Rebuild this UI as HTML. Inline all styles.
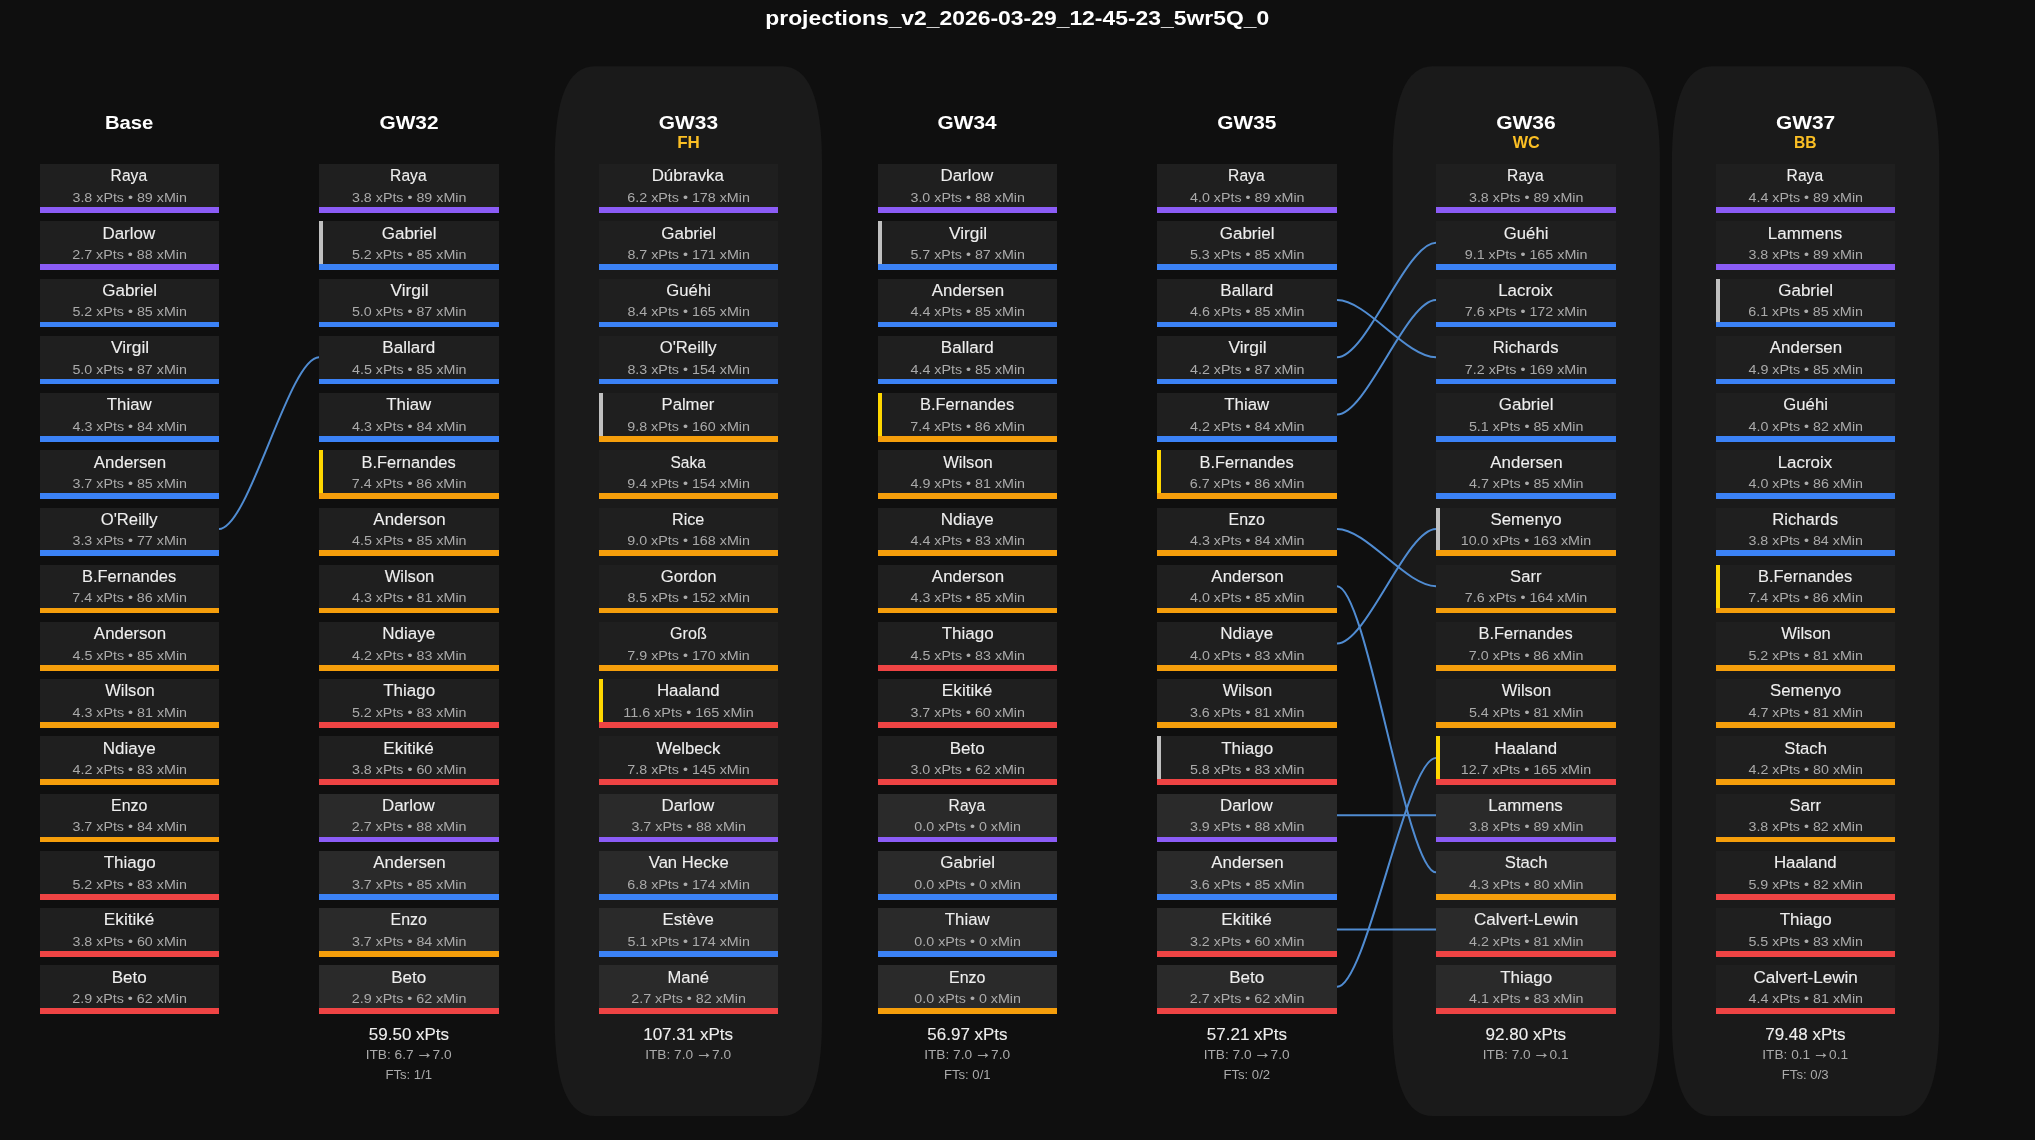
<!DOCTYPE html>
<html><head><meta charset="utf-8"><title>projections_v2_2026-03-29_12-45-23_5wr5Q_0</title><style>
html,body{margin:0;padding:0;background:#0f0f0f;width:2035px;height:1140px;overflow:hidden}
svg{display:block;will-change:transform}
text{font-family:"Liberation Sans",sans-serif;text-anchor:middle}
.t{font-size:19.83px;font-weight:bold;fill:#ffffff}
.h{font-size:18.42px;font-weight:bold;fill:#ffffff}
.c{font-size:15.59px;font-weight:bold;fill:#fbbf24}
.n{font-size:15.59px;fill:#eeeeee;stroke:#eeeeee;stroke-width:0.1px}
.s{font-size:12.75px;fill:#aaaaaa}
.tot{font-size:15.59px;fill:#eeeeee;stroke:#eeeeee;stroke-width:0.1px}
.i{font-size:12.75px;fill:#aaaaaa}
.i .ar{stroke:#aaaaaa}
.ar{font-size:15.62px;stroke-width:0.3px}
.ln{fill:none;stroke:#508cd2;stroke-width:2px}
</style></head><body>
<svg width="2035" height="1140" viewBox="0 0 2035 1140">
<rect x="0" y="0" width="2035" height="1140" fill="#0f0f0f"/>
<path d="M594.70,66.30L782.00,66.30Q822.00,66.30 822.00,162.30L822.00,1020.00Q822.00,1116.00 782.00,1116.00L594.70,1116.00Q554.70,1116.00 554.70,1020.00L554.70,162.30Q554.70,66.30 594.70,66.30Z" fill="#1a1a1a"/>
<path d="M1432.60,66.30L1619.90,66.30Q1659.90,66.30 1659.90,162.30L1659.90,1020.00Q1659.90,1116.00 1619.90,1116.00L1432.60,1116.00Q1392.60,1116.00 1392.60,1020.00L1392.60,162.30Q1392.60,66.30 1432.60,66.30Z" fill="#1a1a1a"/>
<path d="M1711.90,66.30L1899.20,66.30Q1939.20,66.30 1939.20,162.30L1939.20,1020.00Q1939.20,1116.00 1899.20,1116.00L1711.90,1116.00Q1671.90,1116.00 1671.90,1020.00L1671.90,162.30Q1671.90,66.30 1711.90,66.30Z" fill="#1a1a1a"/>
<text x="1017.24" y="25" class="t" textLength="503.96" lengthAdjust="spacingAndGlyphs">projections_v2_2026-03-29_12-45-23_5wr5Q_0</text>
<text x="129.15" y="129" class="h" textLength="48.46" lengthAdjust="spacingAndGlyphs">Base</text>
<rect x="40" y="164" width="179" height="49" fill="#1f1f1f"/>
<rect x="40" y="207" width="179" height="6" fill="#8b5cf6"/>
<text x="128.85" y="181" class="n" textLength="36.46" lengthAdjust="spacingAndGlyphs">Raya</text>
<text x="129.68" y="202" class="s" textLength="114.43" lengthAdjust="spacingAndGlyphs">3.8 xPts • 89 xMin</text>
<rect x="40" y="221" width="179" height="49" fill="#1f1f1f"/>
<rect x="40" y="264" width="179" height="6" fill="#8b5cf6"/>
<text x="128.78" y="239" class="n" textLength="52.69" lengthAdjust="spacingAndGlyphs">Darlow</text>
<text x="129.59" y="259" class="s" textLength="114.64" lengthAdjust="spacingAndGlyphs">2.7 xPts • 88 xMin</text>
<rect x="40" y="279" width="179" height="48" fill="#1f1f1f"/>
<rect x="40" y="322" width="179" height="5" fill="#3b82f6"/>
<text x="129.64" y="296" class="n" textLength="54.81" lengthAdjust="spacingAndGlyphs">Gabriel</text>
<text x="129.66" y="316" class="s" textLength="114.44" lengthAdjust="spacingAndGlyphs">5.2 xPts • 85 xMin</text>
<rect x="40" y="336" width="179" height="48" fill="#1f1f1f"/>
<rect x="40" y="379" width="179" height="5" fill="#3b82f6"/>
<text x="130.04" y="353" class="n" textLength="38.27" lengthAdjust="spacingAndGlyphs">Virgil</text>
<text x="129.66" y="374" class="s" textLength="114.44" lengthAdjust="spacingAndGlyphs">5.0 xPts • 87 xMin</text>
<rect x="40" y="393" width="179" height="49" fill="#1f1f1f"/>
<rect x="40" y="436" width="179" height="6" fill="#3b82f6"/>
<text x="129.29" y="410" class="n" textLength="44.84" lengthAdjust="spacingAndGlyphs">Thiaw</text>
<text x="129.79" y="431" class="s" textLength="114.56" lengthAdjust="spacingAndGlyphs">4.3 xPts • 84 xMin</text>
<rect x="40" y="450" width="179" height="49" fill="#1f1f1f"/>
<rect x="40" y="493" width="179" height="6" fill="#3b82f6"/>
<text x="130.01" y="468" class="n" textLength="72.28" lengthAdjust="spacingAndGlyphs">Andersen</text>
<text x="129.68" y="488" class="s" textLength="114.43" lengthAdjust="spacingAndGlyphs">3.7 xPts • 85 xMin</text>
<rect x="40" y="508" width="179" height="48" fill="#1f1f1f"/>
<rect x="40" y="550" width="179" height="6" fill="#3b82f6"/>
<text x="129.14" y="525" class="n" textLength="56.89" lengthAdjust="spacingAndGlyphs">O'Reilly</text>
<text x="129.68" y="545" class="s" textLength="114.43" lengthAdjust="spacingAndGlyphs">3.3 xPts • 77 xMin</text>
<rect x="40" y="565" width="179" height="48" fill="#1f1f1f"/>
<rect x="40" y="608" width="179" height="5" fill="#f59e0b"/>
<text x="129.12" y="582" class="n" textLength="94.20" lengthAdjust="spacingAndGlyphs">B.Fernandes</text>
<text x="129.59" y="602" class="s" textLength="114.52" lengthAdjust="spacingAndGlyphs">7.4 xPts • 86 xMin</text>
<rect x="40" y="622" width="179" height="49" fill="#1f1f1f"/>
<rect x="40" y="665" width="179" height="6" fill="#f59e0b"/>
<text x="130.01" y="639" class="n" textLength="72.24" lengthAdjust="spacingAndGlyphs">Anderson</text>
<text x="129.79" y="660" class="s" textLength="114.56" lengthAdjust="spacingAndGlyphs">4.5 xPts • 85 xMin</text>
<rect x="40" y="679" width="179" height="49" fill="#1f1f1f"/>
<rect x="40" y="722" width="179" height="6" fill="#f59e0b"/>
<text x="129.98" y="696" class="n" textLength="49.60" lengthAdjust="spacingAndGlyphs">Wilson</text>
<text x="129.79" y="717" class="s" textLength="114.56" lengthAdjust="spacingAndGlyphs">4.3 xPts • 81 xMin</text>
<rect x="40" y="736" width="179" height="49" fill="#1f1f1f"/>
<rect x="40" y="779" width="179" height="6" fill="#f59e0b"/>
<text x="129.16" y="754" class="n" textLength="53.02" lengthAdjust="spacingAndGlyphs">Ndiaye</text>
<text x="129.79" y="774" class="s" textLength="114.56" lengthAdjust="spacingAndGlyphs">4.2 xPts • 83 xMin</text>
<rect x="40" y="794" width="179" height="48" fill="#1f1f1f"/>
<rect x="40" y="837" width="179" height="5" fill="#f59e0b"/>
<text x="129.18" y="811" class="n" textLength="36.36" lengthAdjust="spacingAndGlyphs">Enzo</text>
<text x="129.68" y="831" class="s" textLength="114.43" lengthAdjust="spacingAndGlyphs">3.7 xPts • 84 xMin</text>
<rect x="40" y="851" width="179" height="49" fill="#1f1f1f"/>
<rect x="40" y="894" width="179" height="6" fill="#ef4444"/>
<text x="129.65" y="868" class="n" textLength="51.95" lengthAdjust="spacingAndGlyphs">Thiago</text>
<text x="129.66" y="889" class="s" textLength="114.44" lengthAdjust="spacingAndGlyphs">5.2 xPts • 83 xMin</text>
<rect x="40" y="908" width="179" height="49" fill="#1f1f1f"/>
<rect x="40" y="951" width="179" height="6" fill="#ef4444"/>
<text x="129.16" y="925" class="n" textLength="50.55" lengthAdjust="spacingAndGlyphs">Ekitiké</text>
<text x="129.68" y="946" class="s" textLength="114.43" lengthAdjust="spacingAndGlyphs">3.8 xPts • 60 xMin</text>
<rect x="40" y="965" width="179" height="49" fill="#1f1f1f"/>
<rect x="40" y="1008" width="179" height="6" fill="#ef4444"/>
<text x="129.16" y="983" class="n" textLength="35.01" lengthAdjust="spacingAndGlyphs">Beto</text>
<text x="129.59" y="1003" class="s" textLength="114.64" lengthAdjust="spacingAndGlyphs">2.9 xPts • 62 xMin</text>
<text x="408.99" y="129" class="h" textLength="59.08" lengthAdjust="spacingAndGlyphs">GW32</text>
<rect x="319" y="164" width="180" height="49" fill="#1f1f1f"/>
<rect x="319" y="207" width="180" height="6" fill="#8b5cf6"/>
<text x="408.35" y="181" class="n" textLength="36.46" lengthAdjust="spacingAndGlyphs">Raya</text>
<text x="409.18" y="202" class="s" textLength="114.43" lengthAdjust="spacingAndGlyphs">3.8 xPts • 89 xMin</text>
<rect x="319" y="221" width="180" height="49" fill="#1f1f1f"/>
<rect x="319" y="264" width="180" height="6" fill="#3b82f6"/>
<rect x="319" y="221" width="4" height="43" fill="#c0c0c0"/>
<text x="409.14" y="239" class="n" textLength="54.81" lengthAdjust="spacingAndGlyphs">Gabriel</text>
<text x="409.16" y="259" class="s" textLength="114.44" lengthAdjust="spacingAndGlyphs">5.2 xPts • 85 xMin</text>
<rect x="319" y="279" width="180" height="48" fill="#1f1f1f"/>
<rect x="319" y="322" width="180" height="5" fill="#3b82f6"/>
<text x="409.54" y="296" class="n" textLength="38.27" lengthAdjust="spacingAndGlyphs">Virgil</text>
<text x="409.16" y="316" class="s" textLength="114.44" lengthAdjust="spacingAndGlyphs">5.0 xPts • 87 xMin</text>
<rect x="319" y="336" width="180" height="48" fill="#1f1f1f"/>
<rect x="319" y="379" width="180" height="5" fill="#3b82f6"/>
<text x="408.83" y="353" class="n" textLength="53.01" lengthAdjust="spacingAndGlyphs">Ballard</text>
<text x="409.29" y="374" class="s" textLength="114.56" lengthAdjust="spacingAndGlyphs">4.5 xPts • 85 xMin</text>
<rect x="319" y="393" width="180" height="49" fill="#1f1f1f"/>
<rect x="319" y="436" width="180" height="6" fill="#3b82f6"/>
<text x="408.79" y="410" class="n" textLength="44.84" lengthAdjust="spacingAndGlyphs">Thiaw</text>
<text x="409.29" y="431" class="s" textLength="114.56" lengthAdjust="spacingAndGlyphs">4.3 xPts • 84 xMin</text>
<rect x="319" y="450" width="180" height="49" fill="#1f1f1f"/>
<rect x="319" y="493" width="180" height="6" fill="#f59e0b"/>
<rect x="319" y="450" width="4" height="43" fill="#ffd700"/>
<text x="408.62" y="468" class="n" textLength="94.20" lengthAdjust="spacingAndGlyphs">B.Fernandes</text>
<text x="409.09" y="488" class="s" textLength="114.52" lengthAdjust="spacingAndGlyphs">7.4 xPts • 86 xMin</text>
<rect x="319" y="508" width="180" height="48" fill="#1f1f1f"/>
<rect x="319" y="550" width="180" height="6" fill="#f59e0b"/>
<text x="409.51" y="525" class="n" textLength="72.24" lengthAdjust="spacingAndGlyphs">Anderson</text>
<text x="409.29" y="545" class="s" textLength="114.56" lengthAdjust="spacingAndGlyphs">4.5 xPts • 85 xMin</text>
<rect x="319" y="565" width="180" height="48" fill="#1f1f1f"/>
<rect x="319" y="608" width="180" height="5" fill="#f59e0b"/>
<text x="409.48" y="582" class="n" textLength="49.60" lengthAdjust="spacingAndGlyphs">Wilson</text>
<text x="409.29" y="602" class="s" textLength="114.56" lengthAdjust="spacingAndGlyphs">4.3 xPts • 81 xMin</text>
<rect x="319" y="622" width="180" height="49" fill="#1f1f1f"/>
<rect x="319" y="665" width="180" height="6" fill="#f59e0b"/>
<text x="408.66" y="639" class="n" textLength="53.02" lengthAdjust="spacingAndGlyphs">Ndiaye</text>
<text x="409.29" y="660" class="s" textLength="114.56" lengthAdjust="spacingAndGlyphs">4.2 xPts • 83 xMin</text>
<rect x="319" y="679" width="180" height="49" fill="#1f1f1f"/>
<rect x="319" y="722" width="180" height="6" fill="#ef4444"/>
<text x="409.15" y="696" class="n" textLength="51.95" lengthAdjust="spacingAndGlyphs">Thiago</text>
<text x="409.16" y="717" class="s" textLength="114.44" lengthAdjust="spacingAndGlyphs">5.2 xPts • 83 xMin</text>
<rect x="319" y="736" width="180" height="49" fill="#1f1f1f"/>
<rect x="319" y="779" width="180" height="6" fill="#ef4444"/>
<text x="408.66" y="754" class="n" textLength="50.55" lengthAdjust="spacingAndGlyphs">Ekitiké</text>
<text x="409.18" y="774" class="s" textLength="114.43" lengthAdjust="spacingAndGlyphs">3.8 xPts • 60 xMin</text>
<rect x="319" y="794" width="180" height="48" fill="#2a2a2a"/>
<rect x="319" y="837" width="180" height="5" fill="#8b5cf6"/>
<text x="408.28" y="811" class="n" textLength="52.69" lengthAdjust="spacingAndGlyphs">Darlow</text>
<text x="409.09" y="831" class="s" textLength="114.64" lengthAdjust="spacingAndGlyphs">2.7 xPts • 88 xMin</text>
<rect x="319" y="851" width="180" height="49" fill="#2a2a2a"/>
<rect x="319" y="894" width="180" height="6" fill="#3b82f6"/>
<text x="409.51" y="868" class="n" textLength="72.28" lengthAdjust="spacingAndGlyphs">Andersen</text>
<text x="409.18" y="889" class="s" textLength="114.43" lengthAdjust="spacingAndGlyphs">3.7 xPts • 85 xMin</text>
<rect x="319" y="908" width="180" height="49" fill="#2a2a2a"/>
<rect x="319" y="951" width="180" height="6" fill="#f59e0b"/>
<text x="408.68" y="925" class="n" textLength="36.36" lengthAdjust="spacingAndGlyphs">Enzo</text>
<text x="409.18" y="946" class="s" textLength="114.43" lengthAdjust="spacingAndGlyphs">3.7 xPts • 84 xMin</text>
<rect x="319" y="965" width="180" height="49" fill="#2a2a2a"/>
<rect x="319" y="1008" width="180" height="6" fill="#ef4444"/>
<text x="408.66" y="983" class="n" textLength="35.01" lengthAdjust="spacingAndGlyphs">Beto</text>
<text x="409.09" y="1003" class="s" textLength="114.64" lengthAdjust="spacingAndGlyphs">2.9 xPts • 62 xMin</text>
<text x="408.96" y="1040" class="tot" textLength="80.16" lengthAdjust="spacingAndGlyphs">59.50 xPts</text>
<text x="408.63" y="1059" class="i" textLength="85.95" lengthAdjust="spacingAndGlyphs">ITB: 6.7 <tspan class="ar" dx="-1" dy="-1.3">→</tspan><tspan dx="-4" dy="1.3"> 7.0</tspan></text>
<text x="408.78" y="1079" class="i" textLength="46.73" lengthAdjust="spacingAndGlyphs">FTs: 1/1</text>
<text x="688.46" y="129" class="h" textLength="59.16" lengthAdjust="spacingAndGlyphs">GW33</text>
<text x="688.50" y="148" class="c" textLength="22.71" lengthAdjust="spacingAndGlyphs">FH</text>
<rect x="599" y="164" width="179" height="49" fill="#1f1f1f"/>
<rect x="599" y="207" width="179" height="6" fill="#8b5cf6"/>
<text x="687.80" y="181" class="n" textLength="72.29" lengthAdjust="spacingAndGlyphs">Dúbravka</text>
<text x="688.60" y="202" class="s" textLength="122.63" lengthAdjust="spacingAndGlyphs">6.2 xPts • 178 xMin</text>
<rect x="599" y="221" width="179" height="49" fill="#1f1f1f"/>
<rect x="599" y="264" width="179" height="6" fill="#3b82f6"/>
<text x="688.64" y="239" class="n" textLength="54.81" lengthAdjust="spacingAndGlyphs">Gabriel</text>
<text x="688.65" y="259" class="s" textLength="122.55" lengthAdjust="spacingAndGlyphs">8.7 xPts • 171 xMin</text>
<rect x="599" y="279" width="179" height="48" fill="#1f1f1f"/>
<rect x="599" y="322" width="179" height="5" fill="#3b82f6"/>
<text x="688.63" y="296" class="n" textLength="44.53" lengthAdjust="spacingAndGlyphs">Guéhi</text>
<text x="688.65" y="316" class="s" textLength="122.55" lengthAdjust="spacingAndGlyphs">8.4 xPts • 165 xMin</text>
<rect x="599" y="336" width="179" height="48" fill="#1f1f1f"/>
<rect x="599" y="379" width="179" height="5" fill="#3b82f6"/>
<text x="688.14" y="353" class="n" textLength="56.89" lengthAdjust="spacingAndGlyphs">O'Reilly</text>
<text x="688.65" y="374" class="s" textLength="122.55" lengthAdjust="spacingAndGlyphs">8.3 xPts • 154 xMin</text>
<rect x="599" y="393" width="179" height="49" fill="#1f1f1f"/>
<rect x="599" y="436" width="179" height="6" fill="#f59e0b"/>
<rect x="599" y="393" width="4" height="43" fill="#c0c0c0"/>
<text x="687.94" y="410" class="n" textLength="52.85" lengthAdjust="spacingAndGlyphs">Palmer</text>
<text x="688.62" y="431" class="s" textLength="122.69" lengthAdjust="spacingAndGlyphs">9.8 xPts • 160 xMin</text>
<rect x="599" y="450" width="179" height="49" fill="#1f1f1f"/>
<rect x="599" y="493" width="179" height="6" fill="#f59e0b"/>
<text x="688.15" y="468" class="n" textLength="35.33" lengthAdjust="spacingAndGlyphs">Saka</text>
<text x="688.62" y="488" class="s" textLength="122.69" lengthAdjust="spacingAndGlyphs">9.4 xPts • 154 xMin</text>
<rect x="599" y="508" width="179" height="48" fill="#1f1f1f"/>
<rect x="599" y="550" width="179" height="6" fill="#f59e0b"/>
<text x="688.18" y="525" class="n" textLength="32.40" lengthAdjust="spacingAndGlyphs">Rice</text>
<text x="688.62" y="545" class="s" textLength="122.69" lengthAdjust="spacingAndGlyphs">9.0 xPts • 168 xMin</text>
<rect x="599" y="565" width="179" height="48" fill="#1f1f1f"/>
<rect x="599" y="608" width="179" height="5" fill="#f59e0b"/>
<text x="688.61" y="582" class="n" textLength="55.71" lengthAdjust="spacingAndGlyphs">Gordon</text>
<text x="688.65" y="602" class="s" textLength="122.55" lengthAdjust="spacingAndGlyphs">8.5 xPts • 152 xMin</text>
<rect x="599" y="622" width="179" height="49" fill="#1f1f1f"/>
<rect x="599" y="665" width="179" height="6" fill="#f59e0b"/>
<text x="688.42" y="639" class="n" textLength="36.68" lengthAdjust="spacingAndGlyphs">Groß</text>
<text x="688.60" y="660" class="s" textLength="122.47" lengthAdjust="spacingAndGlyphs">7.9 xPts • 170 xMin</text>
<rect x="599" y="679" width="179" height="49" fill="#1f1f1f"/>
<rect x="599" y="722" width="179" height="6" fill="#ef4444"/>
<rect x="599" y="679" width="4" height="43" fill="#ffd700"/>
<text x="688.33" y="696" class="n" textLength="62.80" lengthAdjust="spacingAndGlyphs">Haaland</text>
<text x="688.42" y="717" class="s" textLength="130.46" lengthAdjust="spacingAndGlyphs">11.6 xPts • 165 xMin</text>
<rect x="599" y="736" width="179" height="49" fill="#1f1f1f"/>
<rect x="599" y="779" width="179" height="6" fill="#ef4444"/>
<text x="688.45" y="754" class="n" textLength="63.71" lengthAdjust="spacingAndGlyphs">Welbeck</text>
<text x="688.60" y="774" class="s" textLength="122.47" lengthAdjust="spacingAndGlyphs">7.8 xPts • 145 xMin</text>
<rect x="599" y="794" width="179" height="48" fill="#2a2a2a"/>
<rect x="599" y="837" width="179" height="5" fill="#8b5cf6"/>
<text x="687.78" y="811" class="n" textLength="52.69" lengthAdjust="spacingAndGlyphs">Darlow</text>
<text x="688.68" y="831" class="s" textLength="114.43" lengthAdjust="spacingAndGlyphs">3.7 xPts • 88 xMin</text>
<rect x="599" y="851" width="179" height="49" fill="#2a2a2a"/>
<rect x="599" y="894" width="179" height="6" fill="#3b82f6"/>
<text x="688.81" y="868" class="n" textLength="80.05" lengthAdjust="spacingAndGlyphs">Van Hecke</text>
<text x="688.60" y="889" class="s" textLength="122.63" lengthAdjust="spacingAndGlyphs">6.8 xPts • 174 xMin</text>
<rect x="599" y="908" width="179" height="49" fill="#2a2a2a"/>
<rect x="599" y="951" width="179" height="6" fill="#3b82f6"/>
<text x="688.18" y="925" class="n" textLength="51.30" lengthAdjust="spacingAndGlyphs">Estève</text>
<text x="688.67" y="946" class="s" textLength="122.39" lengthAdjust="spacingAndGlyphs">5.1 xPts • 174 xMin</text>
<rect x="599" y="965" width="179" height="49" fill="#2a2a2a"/>
<rect x="599" y="1008" width="179" height="6" fill="#ef4444"/>
<text x="688.18" y="983" class="n" textLength="41.44" lengthAdjust="spacingAndGlyphs">Mané</text>
<text x="688.59" y="1003" class="s" textLength="114.64" lengthAdjust="spacingAndGlyphs">2.7 xPts • 82 xMin</text>
<text x="688.15" y="1040" class="tot" textLength="89.98" lengthAdjust="spacingAndGlyphs">107.31 xPts</text>
<text x="688.13" y="1059" class="i" textLength="85.95" lengthAdjust="spacingAndGlyphs">ITB: 7.0 <tspan class="ar" dx="-1" dy="-1.3">→</tspan><tspan dx="-4" dy="1.3"> 7.0</tspan></text>
<text x="967.15" y="129" class="h" textLength="59.12" lengthAdjust="spacingAndGlyphs">GW34</text>
<rect x="878" y="164" width="179" height="49" fill="#1f1f1f"/>
<rect x="878" y="207" width="179" height="6" fill="#8b5cf6"/>
<text x="966.78" y="181" class="n" textLength="52.69" lengthAdjust="spacingAndGlyphs">Darlow</text>
<text x="967.68" y="202" class="s" textLength="114.43" lengthAdjust="spacingAndGlyphs">3.0 xPts • 88 xMin</text>
<rect x="878" y="221" width="179" height="49" fill="#1f1f1f"/>
<rect x="878" y="264" width="179" height="6" fill="#3b82f6"/>
<rect x="878" y="221" width="4" height="43" fill="#c0c0c0"/>
<text x="968.04" y="239" class="n" textLength="38.27" lengthAdjust="spacingAndGlyphs">Virgil</text>
<text x="967.66" y="259" class="s" textLength="114.44" lengthAdjust="spacingAndGlyphs">5.7 xPts • 87 xMin</text>
<rect x="878" y="279" width="179" height="48" fill="#1f1f1f"/>
<rect x="878" y="322" width="179" height="5" fill="#3b82f6"/>
<text x="968.01" y="296" class="n" textLength="72.28" lengthAdjust="spacingAndGlyphs">Andersen</text>
<text x="967.79" y="316" class="s" textLength="114.56" lengthAdjust="spacingAndGlyphs">4.4 xPts • 85 xMin</text>
<rect x="878" y="336" width="179" height="48" fill="#1f1f1f"/>
<rect x="878" y="379" width="179" height="5" fill="#3b82f6"/>
<text x="967.33" y="353" class="n" textLength="53.01" lengthAdjust="spacingAndGlyphs">Ballard</text>
<text x="967.79" y="374" class="s" textLength="114.56" lengthAdjust="spacingAndGlyphs">4.4 xPts • 85 xMin</text>
<rect x="878" y="393" width="179" height="49" fill="#1f1f1f"/>
<rect x="878" y="436" width="179" height="6" fill="#f59e0b"/>
<rect x="878" y="393" width="4" height="43" fill="#ffd700"/>
<text x="967.12" y="410" class="n" textLength="94.20" lengthAdjust="spacingAndGlyphs">B.Fernandes</text>
<text x="967.59" y="431" class="s" textLength="114.52" lengthAdjust="spacingAndGlyphs">7.4 xPts • 86 xMin</text>
<rect x="878" y="450" width="179" height="49" fill="#1f1f1f"/>
<rect x="878" y="493" width="179" height="6" fill="#f59e0b"/>
<text x="967.98" y="468" class="n" textLength="49.60" lengthAdjust="spacingAndGlyphs">Wilson</text>
<text x="967.79" y="488" class="s" textLength="114.56" lengthAdjust="spacingAndGlyphs">4.9 xPts • 81 xMin</text>
<rect x="878" y="508" width="179" height="48" fill="#1f1f1f"/>
<rect x="878" y="550" width="179" height="6" fill="#f59e0b"/>
<text x="967.16" y="525" class="n" textLength="53.02" lengthAdjust="spacingAndGlyphs">Ndiaye</text>
<text x="967.79" y="545" class="s" textLength="114.56" lengthAdjust="spacingAndGlyphs">4.4 xPts • 83 xMin</text>
<rect x="878" y="565" width="179" height="48" fill="#1f1f1f"/>
<rect x="878" y="608" width="179" height="5" fill="#f59e0b"/>
<text x="968.01" y="582" class="n" textLength="72.24" lengthAdjust="spacingAndGlyphs">Anderson</text>
<text x="967.79" y="602" class="s" textLength="114.56" lengthAdjust="spacingAndGlyphs">4.3 xPts • 85 xMin</text>
<rect x="878" y="622" width="179" height="49" fill="#1f1f1f"/>
<rect x="878" y="665" width="179" height="6" fill="#ef4444"/>
<text x="967.65" y="639" class="n" textLength="51.95" lengthAdjust="spacingAndGlyphs">Thiago</text>
<text x="967.79" y="660" class="s" textLength="114.56" lengthAdjust="spacingAndGlyphs">4.5 xPts • 83 xMin</text>
<rect x="878" y="679" width="179" height="49" fill="#1f1f1f"/>
<rect x="878" y="722" width="179" height="6" fill="#ef4444"/>
<text x="967.16" y="696" class="n" textLength="50.55" lengthAdjust="spacingAndGlyphs">Ekitiké</text>
<text x="967.68" y="717" class="s" textLength="114.43" lengthAdjust="spacingAndGlyphs">3.7 xPts • 60 xMin</text>
<rect x="878" y="736" width="179" height="49" fill="#1f1f1f"/>
<rect x="878" y="779" width="179" height="6" fill="#ef4444"/>
<text x="967.16" y="754" class="n" textLength="35.01" lengthAdjust="spacingAndGlyphs">Beto</text>
<text x="967.68" y="774" class="s" textLength="114.43" lengthAdjust="spacingAndGlyphs">3.0 xPts • 62 xMin</text>
<rect x="878" y="794" width="179" height="48" fill="#2a2a2a"/>
<rect x="878" y="837" width="179" height="5" fill="#8b5cf6"/>
<text x="966.85" y="811" class="n" textLength="36.46" lengthAdjust="spacingAndGlyphs">Raya</text>
<text x="967.67" y="831" class="s" textLength="106.64" lengthAdjust="spacingAndGlyphs">0.0 xPts • 0 xMin</text>
<rect x="878" y="851" width="179" height="49" fill="#2a2a2a"/>
<rect x="878" y="894" width="179" height="6" fill="#3b82f6"/>
<text x="967.64" y="868" class="n" textLength="54.81" lengthAdjust="spacingAndGlyphs">Gabriel</text>
<text x="967.67" y="889" class="s" textLength="106.64" lengthAdjust="spacingAndGlyphs">0.0 xPts • 0 xMin</text>
<rect x="878" y="908" width="179" height="49" fill="#2a2a2a"/>
<rect x="878" y="951" width="179" height="6" fill="#3b82f6"/>
<text x="967.29" y="925" class="n" textLength="44.84" lengthAdjust="spacingAndGlyphs">Thiaw</text>
<text x="967.67" y="946" class="s" textLength="106.64" lengthAdjust="spacingAndGlyphs">0.0 xPts • 0 xMin</text>
<rect x="878" y="965" width="179" height="49" fill="#2a2a2a"/>
<rect x="878" y="1008" width="179" height="6" fill="#f59e0b"/>
<text x="967.18" y="983" class="n" textLength="36.36" lengthAdjust="spacingAndGlyphs">Enzo</text>
<text x="967.67" y="1003" class="s" textLength="106.64" lengthAdjust="spacingAndGlyphs">0.0 xPts • 0 xMin</text>
<text x="967.46" y="1040" class="tot" textLength="80.16" lengthAdjust="spacingAndGlyphs">56.97 xPts</text>
<text x="967.13" y="1059" class="i" textLength="85.95" lengthAdjust="spacingAndGlyphs">ITB: 7.0 <tspan class="ar" dx="-1" dy="-1.3">→</tspan><tspan dx="-4" dy="1.3"> 7.0</tspan></text>
<text x="967.28" y="1079" class="i" textLength="46.73" lengthAdjust="spacingAndGlyphs">FTs: 0/1</text>
<text x="1246.89" y="129" class="h" textLength="59.14" lengthAdjust="spacingAndGlyphs">GW35</text>
<rect x="1157" y="164" width="180" height="49" fill="#1f1f1f"/>
<rect x="1157" y="207" width="180" height="6" fill="#8b5cf6"/>
<text x="1246.35" y="181" class="n" textLength="36.46" lengthAdjust="spacingAndGlyphs">Raya</text>
<text x="1247.29" y="202" class="s" textLength="114.56" lengthAdjust="spacingAndGlyphs">4.0 xPts • 89 xMin</text>
<rect x="1157" y="221" width="180" height="49" fill="#1f1f1f"/>
<rect x="1157" y="264" width="180" height="6" fill="#3b82f6"/>
<text x="1247.14" y="239" class="n" textLength="54.81" lengthAdjust="spacingAndGlyphs">Gabriel</text>
<text x="1247.16" y="259" class="s" textLength="114.44" lengthAdjust="spacingAndGlyphs">5.3 xPts • 85 xMin</text>
<rect x="1157" y="279" width="180" height="48" fill="#1f1f1f"/>
<rect x="1157" y="322" width="180" height="5" fill="#3b82f6"/>
<text x="1246.83" y="296" class="n" textLength="53.01" lengthAdjust="spacingAndGlyphs">Ballard</text>
<text x="1247.29" y="316" class="s" textLength="114.56" lengthAdjust="spacingAndGlyphs">4.6 xPts • 85 xMin</text>
<rect x="1157" y="336" width="180" height="48" fill="#1f1f1f"/>
<rect x="1157" y="379" width="180" height="5" fill="#3b82f6"/>
<text x="1247.54" y="353" class="n" textLength="38.27" lengthAdjust="spacingAndGlyphs">Virgil</text>
<text x="1247.29" y="374" class="s" textLength="114.56" lengthAdjust="spacingAndGlyphs">4.2 xPts • 87 xMin</text>
<rect x="1157" y="393" width="180" height="49" fill="#1f1f1f"/>
<rect x="1157" y="436" width="180" height="6" fill="#3b82f6"/>
<text x="1246.79" y="410" class="n" textLength="44.84" lengthAdjust="spacingAndGlyphs">Thiaw</text>
<text x="1247.29" y="431" class="s" textLength="114.56" lengthAdjust="spacingAndGlyphs">4.2 xPts • 84 xMin</text>
<rect x="1157" y="450" width="180" height="49" fill="#1f1f1f"/>
<rect x="1157" y="493" width="180" height="6" fill="#f59e0b"/>
<rect x="1157" y="450" width="4" height="43" fill="#ffd700"/>
<text x="1246.62" y="468" class="n" textLength="94.20" lengthAdjust="spacingAndGlyphs">B.Fernandes</text>
<text x="1247.09" y="488" class="s" textLength="114.67" lengthAdjust="spacingAndGlyphs">6.7 xPts • 86 xMin</text>
<rect x="1157" y="508" width="180" height="48" fill="#1f1f1f"/>
<rect x="1157" y="550" width="180" height="6" fill="#f59e0b"/>
<text x="1246.68" y="525" class="n" textLength="36.36" lengthAdjust="spacingAndGlyphs">Enzo</text>
<text x="1247.29" y="545" class="s" textLength="114.56" lengthAdjust="spacingAndGlyphs">4.3 xPts • 84 xMin</text>
<rect x="1157" y="565" width="180" height="48" fill="#1f1f1f"/>
<rect x="1157" y="608" width="180" height="5" fill="#f59e0b"/>
<text x="1247.51" y="582" class="n" textLength="72.24" lengthAdjust="spacingAndGlyphs">Anderson</text>
<text x="1247.29" y="602" class="s" textLength="114.56" lengthAdjust="spacingAndGlyphs">4.0 xPts • 85 xMin</text>
<rect x="1157" y="622" width="180" height="49" fill="#1f1f1f"/>
<rect x="1157" y="665" width="180" height="6" fill="#f59e0b"/>
<text x="1246.66" y="639" class="n" textLength="53.02" lengthAdjust="spacingAndGlyphs">Ndiaye</text>
<text x="1247.29" y="660" class="s" textLength="114.56" lengthAdjust="spacingAndGlyphs">4.0 xPts • 83 xMin</text>
<rect x="1157" y="679" width="180" height="49" fill="#1f1f1f"/>
<rect x="1157" y="722" width="180" height="6" fill="#f59e0b"/>
<text x="1247.48" y="696" class="n" textLength="49.60" lengthAdjust="spacingAndGlyphs">Wilson</text>
<text x="1247.18" y="717" class="s" textLength="114.43" lengthAdjust="spacingAndGlyphs">3.6 xPts • 81 xMin</text>
<rect x="1157" y="736" width="180" height="49" fill="#1f1f1f"/>
<rect x="1157" y="779" width="180" height="6" fill="#ef4444"/>
<rect x="1157" y="736" width="4" height="43" fill="#c0c0c0"/>
<text x="1247.15" y="754" class="n" textLength="51.95" lengthAdjust="spacingAndGlyphs">Thiago</text>
<text x="1247.16" y="774" class="s" textLength="114.44" lengthAdjust="spacingAndGlyphs">5.8 xPts • 83 xMin</text>
<rect x="1157" y="794" width="180" height="48" fill="#2a2a2a"/>
<rect x="1157" y="837" width="180" height="5" fill="#8b5cf6"/>
<text x="1246.28" y="811" class="n" textLength="52.69" lengthAdjust="spacingAndGlyphs">Darlow</text>
<text x="1247.18" y="831" class="s" textLength="114.43" lengthAdjust="spacingAndGlyphs">3.9 xPts • 88 xMin</text>
<rect x="1157" y="851" width="180" height="49" fill="#2a2a2a"/>
<rect x="1157" y="894" width="180" height="6" fill="#3b82f6"/>
<text x="1247.51" y="868" class="n" textLength="72.28" lengthAdjust="spacingAndGlyphs">Andersen</text>
<text x="1247.18" y="889" class="s" textLength="114.43" lengthAdjust="spacingAndGlyphs">3.6 xPts • 85 xMin</text>
<rect x="1157" y="908" width="180" height="49" fill="#2a2a2a"/>
<rect x="1157" y="951" width="180" height="6" fill="#ef4444"/>
<text x="1246.66" y="925" class="n" textLength="50.55" lengthAdjust="spacingAndGlyphs">Ekitiké</text>
<text x="1247.18" y="946" class="s" textLength="114.43" lengthAdjust="spacingAndGlyphs">3.2 xPts • 60 xMin</text>
<rect x="1157" y="965" width="180" height="49" fill="#2a2a2a"/>
<rect x="1157" y="1008" width="180" height="6" fill="#ef4444"/>
<text x="1246.66" y="983" class="n" textLength="35.01" lengthAdjust="spacingAndGlyphs">Beto</text>
<text x="1247.09" y="1003" class="s" textLength="114.64" lengthAdjust="spacingAndGlyphs">2.7 xPts • 62 xMin</text>
<text x="1246.96" y="1040" class="tot" textLength="80.16" lengthAdjust="spacingAndGlyphs">57.21 xPts</text>
<text x="1246.63" y="1059" class="i" textLength="85.95" lengthAdjust="spacingAndGlyphs">ITB: 7.0 <tspan class="ar" dx="-1" dy="-1.3">→</tspan><tspan dx="-4" dy="1.3"> 7.0</tspan></text>
<text x="1246.80" y="1079" class="i" textLength="46.67" lengthAdjust="spacingAndGlyphs">FTs: 0/2</text>
<text x="1525.96" y="129" class="h" textLength="59.63" lengthAdjust="spacingAndGlyphs">GW36</text>
<text x="1526.21" y="148" class="c" textLength="27.05" lengthAdjust="spacingAndGlyphs">WC</text>
<rect x="1436" y="164" width="180" height="49" fill="#1f1f1f"/>
<rect x="1436" y="207" width="180" height="6" fill="#8b5cf6"/>
<text x="1525.35" y="181" class="n" textLength="36.46" lengthAdjust="spacingAndGlyphs">Raya</text>
<text x="1526.18" y="202" class="s" textLength="114.43" lengthAdjust="spacingAndGlyphs">3.8 xPts • 89 xMin</text>
<rect x="1436" y="221" width="180" height="49" fill="#1f1f1f"/>
<rect x="1436" y="264" width="180" height="6" fill="#3b82f6"/>
<text x="1526.13" y="239" class="n" textLength="44.53" lengthAdjust="spacingAndGlyphs">Guéhi</text>
<text x="1526.12" y="259" class="s" textLength="122.69" lengthAdjust="spacingAndGlyphs">9.1 xPts • 165 xMin</text>
<rect x="1436" y="279" width="180" height="48" fill="#1f1f1f"/>
<rect x="1436" y="322" width="180" height="5" fill="#3b82f6"/>
<text x="1525.42" y="296" class="n" textLength="54.46" lengthAdjust="spacingAndGlyphs">Lacroix</text>
<text x="1526.10" y="316" class="s" textLength="122.47" lengthAdjust="spacingAndGlyphs">7.6 xPts • 172 xMin</text>
<rect x="1436" y="336" width="180" height="48" fill="#1f1f1f"/>
<rect x="1436" y="379" width="180" height="5" fill="#3b82f6"/>
<text x="1525.61" y="353" class="n" textLength="65.73" lengthAdjust="spacingAndGlyphs">Richards</text>
<text x="1526.10" y="374" class="s" textLength="122.47" lengthAdjust="spacingAndGlyphs">7.2 xPts • 169 xMin</text>
<rect x="1436" y="393" width="180" height="49" fill="#1f1f1f"/>
<rect x="1436" y="436" width="180" height="6" fill="#3b82f6"/>
<text x="1526.14" y="410" class="n" textLength="54.81" lengthAdjust="spacingAndGlyphs">Gabriel</text>
<text x="1526.16" y="431" class="s" textLength="114.44" lengthAdjust="spacingAndGlyphs">5.1 xPts • 85 xMin</text>
<rect x="1436" y="450" width="180" height="49" fill="#1f1f1f"/>
<rect x="1436" y="493" width="180" height="6" fill="#3b82f6"/>
<text x="1526.51" y="468" class="n" textLength="72.28" lengthAdjust="spacingAndGlyphs">Andersen</text>
<text x="1526.29" y="488" class="s" textLength="114.56" lengthAdjust="spacingAndGlyphs">4.7 xPts • 85 xMin</text>
<rect x="1436" y="508" width="180" height="48" fill="#1f1f1f"/>
<rect x="1436" y="550" width="180" height="6" fill="#f59e0b"/>
<rect x="1436" y="508" width="4" height="42" fill="#c0c0c0"/>
<text x="1525.98" y="525" class="n" textLength="71.11" lengthAdjust="spacingAndGlyphs">Semenyo</text>
<text x="1525.91" y="545" class="s" textLength="130.43" lengthAdjust="spacingAndGlyphs">10.0 xPts • 163 xMin</text>
<rect x="1436" y="565" width="180" height="48" fill="#1f1f1f"/>
<rect x="1436" y="608" width="180" height="5" fill="#f59e0b"/>
<text x="1525.76" y="582" class="n" textLength="31.39" lengthAdjust="spacingAndGlyphs">Sarr</text>
<text x="1526.10" y="602" class="s" textLength="122.47" lengthAdjust="spacingAndGlyphs">7.6 xPts • 164 xMin</text>
<rect x="1436" y="622" width="180" height="49" fill="#1f1f1f"/>
<rect x="1436" y="665" width="180" height="6" fill="#f59e0b"/>
<text x="1525.62" y="639" class="n" textLength="94.20" lengthAdjust="spacingAndGlyphs">B.Fernandes</text>
<text x="1526.09" y="660" class="s" textLength="114.52" lengthAdjust="spacingAndGlyphs">7.0 xPts • 86 xMin</text>
<rect x="1436" y="679" width="180" height="49" fill="#1f1f1f"/>
<rect x="1436" y="722" width="180" height="6" fill="#f59e0b"/>
<text x="1526.48" y="696" class="n" textLength="49.60" lengthAdjust="spacingAndGlyphs">Wilson</text>
<text x="1526.16" y="717" class="s" textLength="114.44" lengthAdjust="spacingAndGlyphs">5.4 xPts • 81 xMin</text>
<rect x="1436" y="736" width="180" height="49" fill="#1f1f1f"/>
<rect x="1436" y="779" width="180" height="6" fill="#ef4444"/>
<rect x="1436" y="736" width="4" height="43" fill="#ffd700"/>
<text x="1525.83" y="754" class="n" textLength="62.80" lengthAdjust="spacingAndGlyphs">Haaland</text>
<text x="1525.91" y="774" class="s" textLength="130.43" lengthAdjust="spacingAndGlyphs">12.7 xPts • 165 xMin</text>
<rect x="1436" y="794" width="180" height="48" fill="#2a2a2a"/>
<rect x="1436" y="837" width="180" height="5" fill="#8b5cf6"/>
<text x="1525.60" y="811" class="n" textLength="74.47" lengthAdjust="spacingAndGlyphs">Lammens</text>
<text x="1526.18" y="831" class="s" textLength="114.43" lengthAdjust="spacingAndGlyphs">3.8 xPts • 89 xMin</text>
<rect x="1436" y="851" width="180" height="49" fill="#2a2a2a"/>
<rect x="1436" y="894" width="180" height="6" fill="#f59e0b"/>
<text x="1526.16" y="868" class="n" textLength="42.71" lengthAdjust="spacingAndGlyphs">Stach</text>
<text x="1526.29" y="889" class="s" textLength="114.56" lengthAdjust="spacingAndGlyphs">4.3 xPts • 80 xMin</text>
<rect x="1436" y="908" width="180" height="49" fill="#2a2a2a"/>
<rect x="1436" y="951" width="180" height="6" fill="#ef4444"/>
<text x="1526.12" y="925" class="n" textLength="104.39" lengthAdjust="spacingAndGlyphs">Calvert-Lewin</text>
<text x="1526.29" y="946" class="s" textLength="114.56" lengthAdjust="spacingAndGlyphs">4.2 xPts • 81 xMin</text>
<rect x="1436" y="965" width="180" height="49" fill="#2a2a2a"/>
<rect x="1436" y="1008" width="180" height="6" fill="#ef4444"/>
<text x="1526.15" y="983" class="n" textLength="51.95" lengthAdjust="spacingAndGlyphs">Thiago</text>
<text x="1526.29" y="1003" class="s" textLength="114.56" lengthAdjust="spacingAndGlyphs">4.1 xPts • 83 xMin</text>
<text x="1525.90" y="1040" class="tot" textLength="80.52" lengthAdjust="spacingAndGlyphs">92.80 xPts</text>
<text x="1525.70" y="1059" class="i" textLength="85.77" lengthAdjust="spacingAndGlyphs">ITB: 7.0 <tspan class="ar" dx="-1" dy="-1.3">→</tspan><tspan dx="-4" dy="1.3"> 0.1</tspan></text>
<text x="1805.54" y="129" class="h" textLength="59.33" lengthAdjust="spacingAndGlyphs">GW37</text>
<text x="1805.32" y="148" class="c" textLength="22.57" lengthAdjust="spacingAndGlyphs">BB</text>
<rect x="1716" y="164" width="179" height="49" fill="#1f1f1f"/>
<rect x="1716" y="207" width="179" height="6" fill="#8b5cf6"/>
<text x="1804.85" y="181" class="n" textLength="36.46" lengthAdjust="spacingAndGlyphs">Raya</text>
<text x="1805.79" y="202" class="s" textLength="114.56" lengthAdjust="spacingAndGlyphs">4.4 xPts • 89 xMin</text>
<rect x="1716" y="221" width="179" height="49" fill="#1f1f1f"/>
<rect x="1716" y="264" width="179" height="6" fill="#8b5cf6"/>
<text x="1805.10" y="239" class="n" textLength="74.47" lengthAdjust="spacingAndGlyphs">Lammens</text>
<text x="1805.68" y="259" class="s" textLength="114.43" lengthAdjust="spacingAndGlyphs">3.8 xPts • 89 xMin</text>
<rect x="1716" y="279" width="179" height="48" fill="#1f1f1f"/>
<rect x="1716" y="322" width="179" height="5" fill="#3b82f6"/>
<rect x="1716" y="279" width="4" height="43" fill="#c0c0c0"/>
<text x="1805.64" y="296" class="n" textLength="54.81" lengthAdjust="spacingAndGlyphs">Gabriel</text>
<text x="1805.59" y="316" class="s" textLength="114.67" lengthAdjust="spacingAndGlyphs">6.1 xPts • 85 xMin</text>
<rect x="1716" y="336" width="179" height="48" fill="#1f1f1f"/>
<rect x="1716" y="379" width="179" height="5" fill="#3b82f6"/>
<text x="1806.01" y="353" class="n" textLength="72.28" lengthAdjust="spacingAndGlyphs">Andersen</text>
<text x="1805.79" y="374" class="s" textLength="114.56" lengthAdjust="spacingAndGlyphs">4.9 xPts • 85 xMin</text>
<rect x="1716" y="393" width="179" height="49" fill="#1f1f1f"/>
<rect x="1716" y="436" width="179" height="6" fill="#3b82f6"/>
<text x="1805.63" y="410" class="n" textLength="44.53" lengthAdjust="spacingAndGlyphs">Guéhi</text>
<text x="1805.79" y="431" class="s" textLength="114.56" lengthAdjust="spacingAndGlyphs">4.0 xPts • 82 xMin</text>
<rect x="1716" y="450" width="179" height="49" fill="#1f1f1f"/>
<rect x="1716" y="493" width="179" height="6" fill="#3b82f6"/>
<text x="1804.92" y="468" class="n" textLength="54.46" lengthAdjust="spacingAndGlyphs">Lacroix</text>
<text x="1805.79" y="488" class="s" textLength="114.56" lengthAdjust="spacingAndGlyphs">4.0 xPts • 86 xMin</text>
<rect x="1716" y="508" width="179" height="48" fill="#1f1f1f"/>
<rect x="1716" y="550" width="179" height="6" fill="#3b82f6"/>
<text x="1805.11" y="525" class="n" textLength="65.73" lengthAdjust="spacingAndGlyphs">Richards</text>
<text x="1805.68" y="545" class="s" textLength="114.43" lengthAdjust="spacingAndGlyphs">3.8 xPts • 84 xMin</text>
<rect x="1716" y="565" width="179" height="48" fill="#1f1f1f"/>
<rect x="1716" y="608" width="179" height="5" fill="#f59e0b"/>
<rect x="1716" y="565" width="4" height="43" fill="#ffd700"/>
<text x="1805.12" y="582" class="n" textLength="94.20" lengthAdjust="spacingAndGlyphs">B.Fernandes</text>
<text x="1805.59" y="602" class="s" textLength="114.52" lengthAdjust="spacingAndGlyphs">7.4 xPts • 86 xMin</text>
<rect x="1716" y="622" width="179" height="49" fill="#1f1f1f"/>
<rect x="1716" y="665" width="179" height="6" fill="#f59e0b"/>
<text x="1805.98" y="639" class="n" textLength="49.60" lengthAdjust="spacingAndGlyphs">Wilson</text>
<text x="1805.66" y="660" class="s" textLength="114.44" lengthAdjust="spacingAndGlyphs">5.2 xPts • 81 xMin</text>
<rect x="1716" y="679" width="179" height="49" fill="#1f1f1f"/>
<rect x="1716" y="722" width="179" height="6" fill="#f59e0b"/>
<text x="1805.48" y="696" class="n" textLength="71.11" lengthAdjust="spacingAndGlyphs">Semenyo</text>
<text x="1805.79" y="717" class="s" textLength="114.56" lengthAdjust="spacingAndGlyphs">4.7 xPts • 81 xMin</text>
<rect x="1716" y="736" width="179" height="49" fill="#1f1f1f"/>
<rect x="1716" y="779" width="179" height="6" fill="#f59e0b"/>
<text x="1805.66" y="754" class="n" textLength="42.71" lengthAdjust="spacingAndGlyphs">Stach</text>
<text x="1805.79" y="774" class="s" textLength="114.56" lengthAdjust="spacingAndGlyphs">4.2 xPts • 80 xMin</text>
<rect x="1716" y="794" width="179" height="48" fill="#1f1f1f"/>
<rect x="1716" y="837" width="179" height="5" fill="#f59e0b"/>
<text x="1805.26" y="811" class="n" textLength="31.39" lengthAdjust="spacingAndGlyphs">Sarr</text>
<text x="1805.68" y="831" class="s" textLength="114.43" lengthAdjust="spacingAndGlyphs">3.8 xPts • 82 xMin</text>
<rect x="1716" y="851" width="179" height="49" fill="#1f1f1f"/>
<rect x="1716" y="894" width="179" height="6" fill="#ef4444"/>
<text x="1805.33" y="868" class="n" textLength="62.80" lengthAdjust="spacingAndGlyphs">Haaland</text>
<text x="1805.66" y="889" class="s" textLength="114.44" lengthAdjust="spacingAndGlyphs">5.9 xPts • 82 xMin</text>
<rect x="1716" y="908" width="179" height="49" fill="#1f1f1f"/>
<rect x="1716" y="951" width="179" height="6" fill="#ef4444"/>
<text x="1805.65" y="925" class="n" textLength="51.95" lengthAdjust="spacingAndGlyphs">Thiago</text>
<text x="1805.66" y="946" class="s" textLength="114.44" lengthAdjust="spacingAndGlyphs">5.5 xPts • 83 xMin</text>
<rect x="1716" y="965" width="179" height="49" fill="#1f1f1f"/>
<rect x="1716" y="1008" width="179" height="6" fill="#ef4444"/>
<text x="1805.62" y="983" class="n" textLength="104.39" lengthAdjust="spacingAndGlyphs">Calvert-Lewin</text>
<text x="1805.79" y="1003" class="s" textLength="114.56" lengthAdjust="spacingAndGlyphs">4.4 xPts • 81 xMin</text>
<text x="1805.37" y="1040" class="tot" textLength="80.25" lengthAdjust="spacingAndGlyphs">79.48 xPts</text>
<text x="1805.20" y="1059" class="i" textLength="85.77" lengthAdjust="spacingAndGlyphs">ITB: 0.1 <tspan class="ar" dx="-1" dy="-1.3">→</tspan><tspan dx="-4" dy="1.3"> 0.1</tspan></text>
<text x="1805.25" y="1079" class="i" textLength="46.83" lengthAdjust="spacingAndGlyphs">FTs: 0/3</text>
<path d="M219,528.98C249.00,528.98 289.00,357.29 319,357.29" class="ln"/>
<path d="M1337,300.06C1366.70,300.06 1406.30,357.29 1436,357.29" class="ln"/>
<path d="M1337,357.29C1366.70,357.29 1406.30,242.83 1436,242.83" class="ln"/>
<path d="M1337,414.52C1366.70,414.52 1406.30,300.06 1436,300.06" class="ln"/>
<path d="M1337,528.98C1366.70,528.98 1406.30,586.21 1436,586.21" class="ln"/>
<path d="M1337,586.21C1366.70,586.21 1406.30,872.36 1436,872.36" class="ln"/>
<path d="M1337,643.44C1366.70,643.44 1406.30,528.98 1436,528.98" class="ln"/>
<path d="M1337,815.13C1366.70,815.13 1406.30,815.13 1436,815.13" class="ln"/>
<path d="M1337,929.59C1366.70,929.59 1406.30,929.59 1436,929.59" class="ln"/>
<path d="M1337,986.82C1366.70,986.82 1406.30,757.90 1436,757.90" class="ln"/>
</svg>
</body></html>
